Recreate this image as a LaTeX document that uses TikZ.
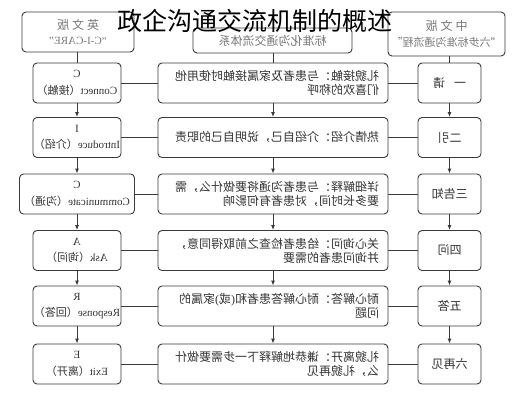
\documentclass[tikz,border=0pt]{standalone}
\usepackage{fontspec}
\setmainfont{Liberation Serif}
\newfontfamily\cjk{Noto Sans CJK SC}
\usetikzlibrary{arrows.meta}
\definecolor{linecol}{HTML}{3A3A3A}
\definecolor{textcol}{HTML}{333333}
\definecolor{headcol}{HTML}{777777}
\begin{document}
\begin{tikzpicture}[x=1pt,y=-1pt,
  box/.style={draw=linecol, line width=0.9pt, rounded corners=4pt, xscale=-1,
    inner sep=0pt, align=center, text=textcol, minimum height=40pt},
  engbox/.style={box, minimum width=88pt, font=\fontsize{11}{16.5}\selectfont},
  midbox/.style={box, minimum width=230pt, text width=212pt, align=left,
    font=\fontsize{12}{14}\selectfont\cjk},
  cnbox/.style={box, minimum width=63pt, font=\fontsize{12}{14}\selectfont\cjk},
  headbox/.style={box, text=headcol},
  conn/.style={draw=linecol, line width=0.9pt},
  arr/.style={conn, -{Latex[length=5pt,width=4pt]}}
]
\useasboundingbox (0,0) rectangle (516,400);

% headers
\node[headbox, minimum width=112pt, minimum height=40pt, font=\fontsize{11}{15}\selectfont]
  (L0) at (78,32) {{\cjk\fontsize{12}{15}\selectfont 英\hspace{3pt}文\hspace{3pt}版}\\“C-I-CARE”};
\node[headbox, minimum width=159pt, minimum height=25pt, font=\fontsize{12}{14}\selectfont\cjk]
  (M0) at (272.5,40.5) {标准化沟通交流体系};
\node[headbox, minimum width=117pt, minimum height=44pt, font=\fontsize{11}{16}\selectfont\cjk]
  (R0) at (446.5,34) {{\fontsize{12}{16}\selectfont 中\hspace{3pt}文\hspace{3pt}版}\\“六步标准沟通流程”};

% left column (English)
\node[engbox] (L1) at (77,83)    {C\\Connect{\cjk（接触）}};
\node[engbox] (L2) at (77,137.5) {I\\Introduce{\cjk（介绍）}};
\node[engbox, minimum width=115pt] (L3) at (77,194) {C\\Communicate{\cjk（沟通）}};
\node[engbox] (L4) at (77,250.5) {A\\Ask{\cjk（询问）}};
\node[engbox] (L5) at (77,306)   {R\\Response{\cjk（回答）}};
\node[engbox] (L6) at (77,364)   {E\\Exit{\cjk（离开）}};

% middle column
\node[midbox] (M1) at (273,83)    {礼貌接触：与患者及家属接触时使用他\\们喜欢的称呼};
\node[midbox] (M2) at (273,137.5) {热情介绍：介绍自己，说明自己的职责};
\node[midbox] (M3) at (273,194)   {详细解释：与患者沟通将要做什么，需\\要多长时间，对患者有何影响};
\node[midbox] (M4) at (273,250.5) {关心询问：给患者检查之前取得同意，\\并询问患者的需要};
\node[midbox] (M5) at (273,306)   {耐心解答：耐心解答患者和{\rmfamily(}或{\rmfamily)}家属的\\问题};
\node[midbox] (M6) at (273,364)   {礼貌离开：谦恭地解释下一步需要做什\\么，礼貌再见};

% right column (Chinese steps)
\node[cnbox] (R1) at (449.5,83)    {一\hspace{9pt}请};
\node[cnbox] (R2) at (449.5,137.5) {二引};
\node[cnbox] (R3) at (449.5,194)   {三告知};
\node[cnbox] (R4) at (449.5,250.5) {四问};
\node[cnbox] (R5) at (449.5,306)   {五答};
\node[cnbox] (R6) at (449.5,364)   {六再见};

% header connectors
\draw[conn] (L1 |- L0.south) -- (L1);
\draw[conn] (M1 |- M0.south) -- (M1);
\draw[conn] (R1 |- R0.south) -- (R1);

% vertical arrows
\foreach \c in {L,M,R}{
  \draw[arr] (\c1) -- (\c2);
  \draw[arr] (\c2) -- (\c3);
  \draw[arr] (\c3) -- (\c4);
  \draw[arr] (\c4) -- (\c5);
  \draw[arr] (\c5) -- (\c6);
}

% horizontal connectors
\foreach \i in {1,...,6}{
  \draw[conn] (L\i) -- (M\i);
  \draw[conn] (M\i) -- (R\i);
}

% title (overlaid, not mirrored)
\node[inner sep=0pt, font=\fontsize{25}{25}\selectfont\cjk, text=black] (title) at (254.5,21) {政企沟通交流机制的概述};
\end{tikzpicture}
\end{document}
